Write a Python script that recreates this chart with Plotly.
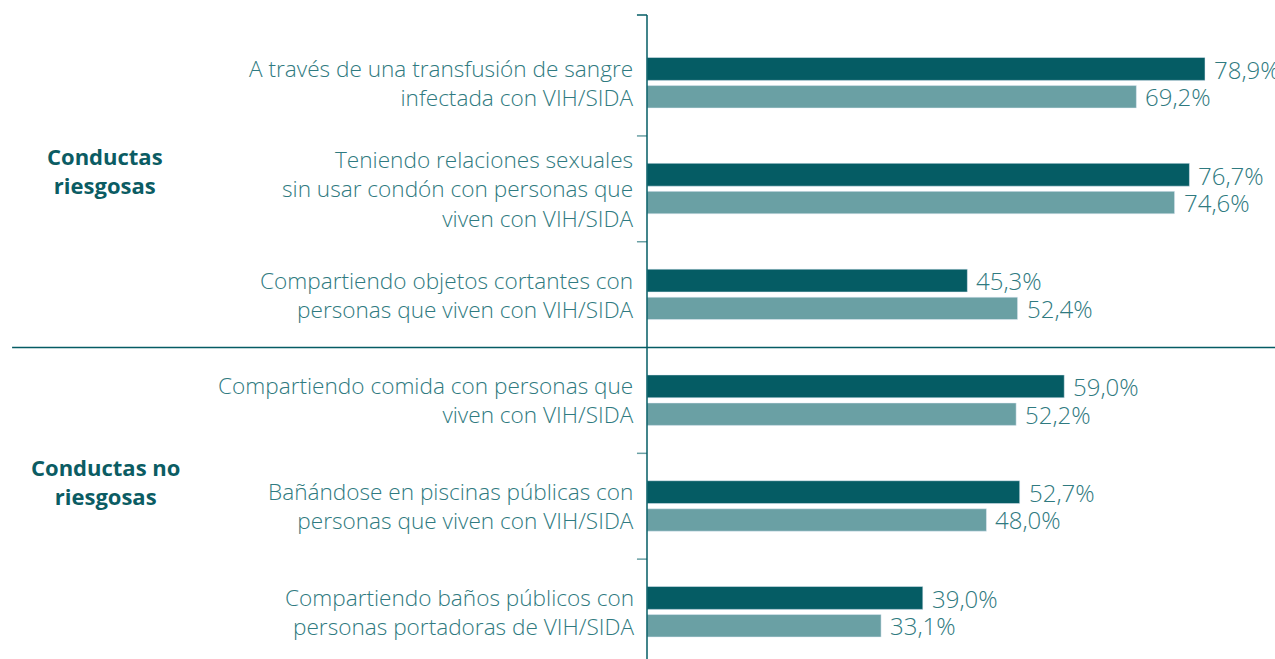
import plotly.graph_objects as go

# Conductas y porcentajes de respuesta (dos series por conducta)
categorias = [
    "A través de una transfusión de sangre<br>infectada con VIH/SIDA",
    "Teniendo relaciones sexuales<br>sin usar condón con personas que<br>viven con VIH/SIDA",
    "Compartiendo objetos cortantes con<br>personas que viven con VIH/SIDA",
    "Compartiendo comida con personas que<br>viven con VIH/SIDA",
    "Bañándose en piscinas públicas con<br>personas que viven con VIH/SIDA",
    "Compartiendo baños públicos con<br>personas portadoras de VIH/SIDA",
]
serie_a = [78.9, 76.7, 45.3, 59.0, 52.7, 39.0]
serie_b = [69.2, 74.6, 52.4, 52.2, 48.0, 33.1]
grupos = ["Conductas<br>riesgosas", "Conductas no<br>riesgosas"]
grupo_pos = [0.83, 3.77]

OSCURO = "#055c64"
CLARO = "#6aa0a4"
TEXTO = "#2f7a80"
FUENTE = "Open Sans"

pos = list(range(len(categorias)))
fmt = lambda v: f"{v:.1f}".replace(".", ",") + "%"

fig = go.Figure()
fig.add_trace(go.Bar(
    y=pos, x=serie_a, orientation="h", marker_color=OSCURO,
    width=0.216, offset=-0.241, hoverinfo="skip",
))
fig.add_trace(go.Bar(
    y=pos, x=serie_b, orientation="h", marker_color=CLARO,
    width=0.212, offset=0.024, hoverinfo="skip",
))

fuente_txt = dict(family=FUENTE, size=22.6, color=TEXTO, weight=300)
fuente_val = dict(family=FUENTE, size=24, color=TEXTO, weight=300)

ann = []
for i, (a, b) in enumerate(zip(serie_a, serie_b)):
    ann.append(dict(x=a, y=i - 0.13, xref="x", yref="y", text=fmt(a),
                    xanchor="left", yanchor="middle", xshift=7, showarrow=False,
                    font=fuente_val))
    ann.append(dict(x=b, y=i + 0.13, xref="x", yref="y", text=fmt(b),
                    xanchor="left", yanchor="middle", xshift=7, showarrow=False,
                    font=fuente_val))
for i, c in enumerate(categorias):
    ann.append(dict(x=0, y=i, xref="paper", yref="y", text=c, align="right",
                    xanchor="right", yanchor="middle", xshift=-11, showarrow=False,
                    font=fuente_txt))
for g, gy in zip(grupos, grupo_pos):
    ann.append(dict(x=-0.863, y=gy, xref="paper", yref="y", text=f"<b>{g}</b>",
                    align="center", xanchor="center", yanchor="middle",
                    showarrow=False,
                    font=dict(family=FUENTE, size=22, color="#0b5c63")))

shapes = []
# marcas de separación entre conductas
for t in [0.5, 1.5, 3.5, 4.5]:
    shapes.append(dict(type="line", xref="paper", yref="y", x0=-0.016, x1=0,
                       y0=t, y1=t, line=dict(color=CLARO, width=1.5)))
# línea divisoria entre los dos grupos
shapes.append(dict(type="line", xref="paper", yref="y", x0=-1.011, x1=1,
                   y0=2.5, y1=2.5, line=dict(color=OSCURO, width=1.5)))
# eje vertical y marca superior
shapes.append(dict(type="line", xref="paper", yref="paper", x0=0, x1=0,
                   y0=0, y1=1, line=dict(color=OSCURO, width=1.5)))
shapes.append(dict(type="line", xref="paper", yref="paper", x0=-0.016, x1=0,
                   y0=1, y1=1, line=dict(color=OSCURO, width=1.5)))

fig.update_layout(
    width=1275, height=659,
    margin=dict(l=647, r=0, t=15, b=0),
    paper_bgcolor="white", plot_bgcolor="white",
    showlegend=False,
    xaxis=dict(range=[0, 88.8], visible=False),
    yaxis=dict(range=[5.444, -0.643], visible=False),
    annotations=ann, shapes=shapes,
)

fig.write_html("out.html")
